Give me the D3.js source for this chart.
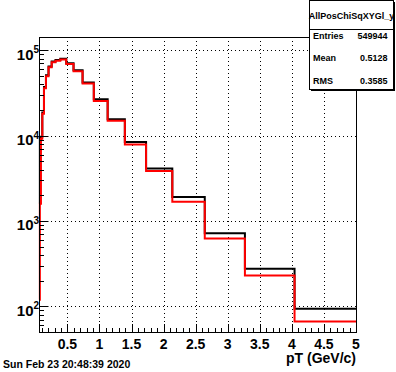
<!DOCTYPE html>
<html>
<head>
<meta charset="utf-8">
<script src="https://cdn.jsdelivr.net/npm/d3@7"></script>
<style>
  body { margin: 0; background: #fff; }
  svg { display: block; font-family: "Liberation Sans", Arial, sans-serif; font-weight: bold; }
</style>
</head>
<body>
<svg id="chart" width="396" height="372"></svg>
<script>
// variable-width (log) bin edges in pT, GeV/c
const binEdges = [0.0575, 0.071, 0.088, 0.109, 0.135, 0.166, 0.206, 0.255, 0.315, 0.390,
  0.482, 0.596, 0.737, 0.912, 1.128, 1.396, 1.727, 2.136, 2.642, 3.268, 4.042, 5.0];
// bin contents
const blackCounts = [1600, 9400, 9700, 18600, 37000, 51000, 64500, 73800, 77000, 79500,
  70500, 58500, 41900, 26700, 15600, 8400, 4130, 1910, 718, 275, 93.5];
const redCounts = [119, 1590, 9180, 18000, 35900, 49600, 63200, 72400, 75400, 77900,
  69100, 56800, 40800, 25500, 14900, 7890, 3845, 1683, 621, 229, 66.4];

const xTicks = [0.5, 1, 1.5, 2, 2.5, 3, 3.5, 4, 4.5, 5];
const yDecades = [2, 3, 4, 5];
const statName = "AllPosChiSqXYGl_y";
const statLabels = ["Entries", "Mean", "RMS"];
const statValues = ["549944", "0.5128", "0.3585"];
const dateText = "Sun Feb 23 20:48:39 2020";
const xTitle = "pT (GeV/c)";

const svg = d3.select("#chart");
const frame = { left: 39, right: 356, top: 37, bottom: 332 };

const x = d3.scaleLinear().domain([0.0575, 5]).range([frame.left, frame.right]);
const y = d3.scaleLog().domain([50, 143000]).range([frame.bottom, frame.top]);

// grid
const grid = svg.append("g")
  .attr("stroke", "#000")
  .attr("stroke-width", 1)
  .attr("stroke-dasharray", "1,3");
grid.selectAll(".gx")
  .data(xTicks.filter((d) => d < 5))
  .join("line")
  .attr("x1", (d) => Math.round(x(d)) + 0.5)
  .attr("x2", (d) => Math.round(x(d)) + 0.5)
  .attr("y1", frame.top)
  .attr("y2", frame.bottom);
grid.selectAll(".gy")
  .data(yDecades)
  .join("line")
  .attr("x1", frame.left)
  .attr("x2", frame.right)
  .attr("y1", (d) => Math.round(y(10 ** d)) + 0.5)
  .attr("y2", (d) => Math.round(y(10 ** d)) + 0.5);

// histograms
function histPoints(counts) {
  const pts = counts.map((c, i) => [binEdges[i], c]);
  pts.push([binEdges[binEdges.length - 1], counts[counts.length - 1]]);
  return pts;
}
const stepLine = d3.line()
  .x((d) => x(d[0]))
  .y((d) => y(d[1]))
  .curve(d3.curveStepAfter);

svg.append("path")
  .attr("d", stepLine(histPoints(blackCounts)))
  .attr("fill", "none")
  .attr("stroke", "#000")
  .attr("stroke-width", 2);
svg.append("path")
  .attr("d", stepLine(histPoints(redCounts)))
  .attr("fill", "none")
  .attr("stroke", "#ff0000")
  .attr("stroke-width", 2);

// frame
svg.append("rect")
  .attr("x", frame.left + 0.5)
  .attr("y", frame.top + 0.5)
  .attr("width", frame.right - frame.left)
  .attr("height", frame.bottom - frame.top)
  .attr("fill", "none")
  .attr("stroke", "#000");

// x ticks: primary every 0.5, secondary every 0.1
const xMinor = d3.range(1, 51).map((d) => d / 10).filter((d) => d > 0.0575);
svg.append("g")
  .attr("stroke", "#000")
  .selectAll("line")
  .data(xMinor)
  .join("line")
  .attr("x1", (d) => Math.round(x(d)) + 0.5)
  .attr("x2", (d) => Math.round(x(d)) + 0.5)
  .attr("y1", frame.bottom)
  .attr("y2", (d) => frame.bottom - (Math.abs(d * 2 - Math.round(d * 2)) < 1e-6 ? 8 : 4));

svg.append("g")
  .attr("font-size", 14)
  .attr("text-anchor", "middle")
  .selectAll("text")
  .data(xTicks)
  .join("text")
  .attr("x", (d) => x(d))
  .attr("y", 348.5)
  .text((d) => d);

svg.append("text")
  .attr("x", frame.right)
  .attr("y", 363)
  .attr("text-anchor", "end")
  .attr("font-size", 14)
  .text(xTitle);

// y ticks (log): decades + 2..9 minor
const yMinor = [];
[1, 2, 3, 4, 5].forEach((e) => {
  for (let m = 1; m < 10; m++) {
    const v = m * 10 ** e;
    if (v >= 50 && v <= 143000) yMinor.push({ v, major: m === 1 });
  }
});
svg.append("g")
  .attr("stroke", "#000")
  .selectAll("line")
  .data(yMinor)
  .join("line")
  .attr("x1", frame.left)
  .attr("x2", (d) => frame.left + (d.major ? 9.5 : 5))
  .attr("y1", (d) => Math.round(y(d.v)) + 0.5)
  .attr("y2", (d) => Math.round(y(d.v)) + 0.5);

const yLab = svg.append("g")
  .selectAll("g")
  .data(yDecades)
  .join("g")
  .attr("transform", (d) => `translate(0,${y(10 ** d)})`);
yLab.append("text")
  .attr("x", 33.5)
  .attr("y", 9.5)
  .attr("text-anchor", "end")
  .attr("font-size", 15)
  .text("10");
yLab.append("text")
  .attr("x", 33.5)
  .attr("y", 3)
  .attr("font-size", 10)
  .text((d) => d);

// stats box
const box = svg.append("g");
box.append("rect")
  .attr("x", 311).attr("y", 2)
  .attr("width", 84).attr("height", 89)
  .attr("fill", "#000");
box.append("rect")
  .attr("x", 309.5).attr("y", 0.5)
  .attr("width", 84).attr("height", 89)
  .attr("fill", "#fff")
  .attr("stroke", "#000");
box.append("line")
  .attr("x1", 309.5).attr("x2", 393.5)
  .attr("y1", 29.5).attr("y2", 29.5)
  .attr("stroke", "#000");
box.append("text")
  .attr("x", 351.5).attr("y", 19)
  .attr("text-anchor", "middle")
  .attr("font-size", 9)
  .text(statName);
box.selectAll(".sl")
  .data(statLabels)
  .join("text")
  .attr("x", 313)
  .attr("y", (d, i) => 38.5 + i * 22.5)
  .attr("font-size", 9)
  .text((d) => d);
box.selectAll(".sv")
  .data(statValues)
  .join("text")
  .attr("x", 387.5)
  .attr("y", (d, i) => 38.5 + i * 22.5)
  .attr("text-anchor", "end")
  .attr("font-size", 9)
  .text((d) => d);

// date stamp
svg.append("text")
  .attr("x", 3)
  .attr("y", 367.5)
  .attr("font-size", 10.5)
  .text(dateText);
</script>
</body>
</html>
